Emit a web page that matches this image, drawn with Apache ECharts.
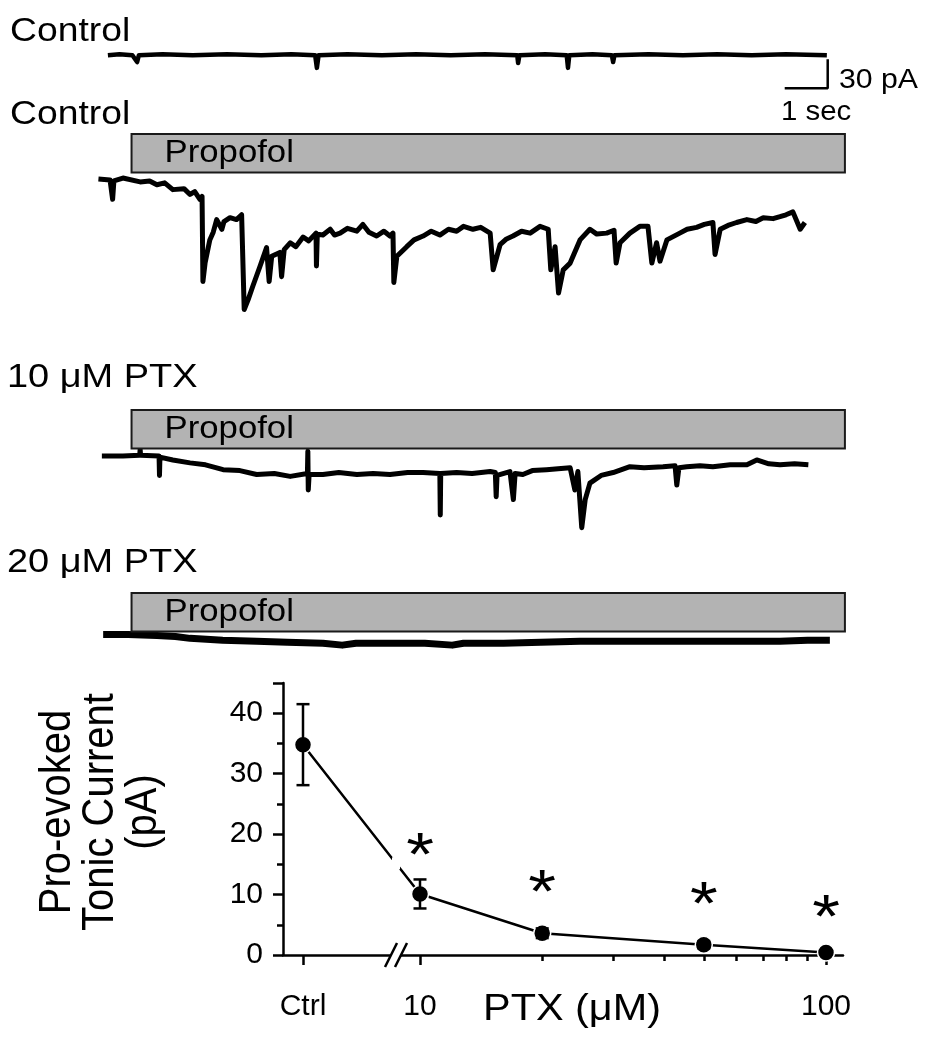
<!DOCTYPE html>
<html><head><meta charset="utf-8">
<script src="https://cdn.jsdelivr.net/npm/echarts@6/dist/echarts.min.js"></script>
<style>html,body{margin:0;padding:0;background:#fff}#c{width:930px;height:1050px}</style>
</head><body><div id="c"></div>
<script>
// ---------- DATA ----------
// Traces: [time (s), current (pA, relative to start baseline)]
const traceControl = [[0.23,-1],[0.5,0],[0.8,-1],[0.91,-8],[0.95,-1],[1.5,0],[2.2,-1],[3,0],[3.8,-1],[4.5,0],[5.05,-1],[5.09,-14],[5.13,-1],[5.8,0],[6.6,-1],[7.4,0],[8.2,-1],[9,0],[9.75,-1],[9.77,-9],[9.8,-1],[10.4,0],[10.9,-1],[10.93,-14],[10.96,-1],[11.5,0],[11.95,-1],[11.98,-8],[12.01,-1],[12.8,0],[13.6,-1],[14.4,0],[15.2,-1],[16,0],[16.95,-1]];
const traceProp = [[0.01,0],[0.28,-1],[0.34,-21],[0.37,-2],[0.58,1],[0.98,-3],[1.2,-2],[1.37,-6],[1.55,-4],[1.74,-11],[2.0,-10],[2.14,-16],[2.25,-13],[2.37,-21],[2.42,-18],[2.44,-106],[2.49,-87],[2.60,-63],[2.68,-55],[2.76,-42],[2.88,-52],[2.93,-44],[3.07,-40],[3.22,-42],[3.34,-37],[3.37,-39],[3.40,-135],[3.49,-125],[3.60,-111],[3.77,-90],[3.92,-71],[3.98,-106],[4.04,-80],[4.23,-76],[4.27,-101],[4.33,-73],[4.47,-66],[4.6,-70],[4.77,-60],[4.9,-64],[5.07,-56],[5.08,-90],[5.10,-57],[5.23,-58],[5.4,-52],[5.5,-58],[5.63,-56],[5.8,-51],[6.02,-54],[6.16,-47],[6.3,-55],[6.48,-59],[6.65,-54],[6.79,-59],[6.86,-56],[6.88,-107],[6.95,-80],[7.18,-70],[7.35,-63],[7.56,-59],[7.75,-54],[7.95,-58],[8.15,-52],[8.34,-54],[8.5,-49],[8.72,-52],[8.9,-50],[9.12,-56],[9.19,-94],[9.35,-68],[9.5,-62],[9.65,-59],[9.85,-54],[10.05,-56],[10.28,-49],[10.47,-52],[10.53,-94],[10.63,-70],[10.71,-118],[10.82,-94],[10.98,-87],[11.21,-63],[11.44,-52],[11.6,-57],[11.83,-56],[12.0,-53],[12.05,-87],[12.14,-66],[12.37,-56],[12.6,-49],[12.79,-49],[12.88,-87],[12.99,-66],[13.07,-85],[13.23,-63],[13.53,-56],[13.7,-52],[13.92,-50],[14.1,-47],[14.30,-45],[14.35,-78],[14.47,-52],[14.65,-48],[14.85,-45],[15.09,-42],[15.3,-44],[15.47,-40],[15.7,-41],[15.86,-39],[16.0,-37],[16.16,-34],[16.33,-52],[16.44,-45]];
const trace10PTX = [[0.09,0],[0.58,0],[0.97,1],[0.98,7],[0.99,1],[1.42,0],[1.43,-20],[1.44,-1],[1.74,-4],[2.14,-7],[2.5,-9],[2.91,-14],[3.3,-15],[3.69,-19],[4.1,-18],[4.47,-21],[4.87,-18],[4.88,5],[4.89,-35],[4.91,-19],[5.23,-19],[5.6,-17],[6.02,-19],[6.4,-18],[6.79,-19],[7.2,-17],[7.56,-17],[7.95,-18],[7.96,-61],[7.97,-18],[8.34,-17],[8.7,-18],[9.12,-16],[9.24,-17],[9.26,-42],[9.28,-20],[9.58,-16],[9.66,-45],[9.70,-18],[9.88,-19],[10.1,-15],[10.43,-14],[10.7,-13],[10.98,-12],[11.09,-35],[11.16,-16],[11.25,-74],[11.33,-45],[11.44,-28],[11.7,-20],[11.98,-17],[12.37,-11],[12.7,-12],[13.14,-11],[13.42,-10],[13.46,-30],[13.51,-12],[13.69,-11],[14.0,-10],[14.30,-11],[14.7,-9],[15.09,-9],[15.32,-4],[15.6,-8],[15.86,-9],[16.2,-8],[16.52,-9]];
const trace20PTX = [[0.12,0],[0.7,0],[1.37,-1],[1.8,-2],[2.14,-4],[2.9,-6],[3.69,-7],[4.4,-8],[5.23,-9],[5.68,-11],[6.0,-9],[6.79,-9],[7.6,-9],[8.24,-11],[8.5,-9],[9.43,-9],[10.3,-8],[11.21,-7],[12.4,-7],[13.53,-7],[14.7,-7],[15.86,-7],[16.5,-6],[17.02,-6]];
const propofolOn = 0.78, propofolOff = 17.37;   // s
const scaleBarSec = 1, scaleBarPA = 30;

// Summary plot
const ptxLabels = ['Ctrl', '10', '20', '50', '100'];
const ptxConc = [null, 10, 20, 50, 100];           // µM (null = control)
const tonicMean = [34.8, 10.1, 3.6, 1.7, 0.4];      // pA
const tonicSem  = [6.7, 2.4, 0.8, 0.6, 0.3];        // pA
const significant = [false, true, true, true, true];
const asteriskY = [null, 18.5, 12.4, 10.4, 8.3];
const xMinorConc = [20, 30, 40, 50, 60, 70, 80, 90];

// ---------- LAYOUT ----------
const PX_PER_S = 43, PX_PER_PA = 29 / 30;
const TR_LEFT = 98, TR_W = 760, TR_H = 290;
const tMax = TR_W / PX_PER_S, paRange = TR_H / PX_PER_PA;
const traceGrids = [ {top: 35, max: 20}, {top: 121, max: 60}, {top: 430, max: 27}, {top: 620, max: 15} ];
const traces = [traceControl, traceProp, trace10PTX, trace20PTX];
const traceWidths = [4.5, 5, 5, 7];
const FONT = '"Liberation Sans", Arial, sans-serif';

const CTRL_U = 1 - (420 - 303) / 406;
const X_MIN = 1 - (420 - 283) / 406, X_MAX = 2 + (843 - 826) / 406;
const BREAK_U = 1 - 24 / 406;
const uOf = (i) => ptxConc[i] == null ? CTRL_U : Math.log10(ptxConc[i]);

const grids = [], xAxes = [], yAxes = [], series = [];
traceGrids.forEach((g, i) => {
  grids.push({left: TR_LEFT, top: g.top, width: TR_W, height: TR_H, containLabel: false});
  xAxes.push({type: 'value', gridIndex: i, min: 0, max: tMax, show: false});
  yAxes.push({type: 'value', gridIndex: i, min: g.max - paRange, max: g.max, show: false});
  series.push({type: 'line', xAxisIndex: i, yAxisIndex: i, data: traces[i], showSymbol: false,
    lineStyle: {color: '#000', width: traceWidths[i], join: 'round'}, silent: true});
});
const sbT = 16.97, sbV = -35;
series.push({type: 'line', xAxisIndex: 0, yAxisIndex: 0, showSymbol: false,
  data: [[sbT - scaleBarSec, sbV], [sbT, sbV], [sbT, sbV + scaleBarPA]],
  lineStyle: {color: '#000', width: 2.5}});

grids.push({left: 283, right: 930 - 843, top: 683, bottom: 1050 - 955});
const lab = {fontFamily: FONT, fontSize: 30, color: '#000'};
xAxes.push({type: 'value', gridIndex: 4, min: X_MIN, max: X_MAX,
  axisLine: {show: true, onZero: false, lineStyle: {color: '#000', width: 2.5}},
  axisTick: {show: true, inside: false, length: 10, lineStyle: {width: 2.5, color: '#000'},
    customValues: [CTRL_U, 1, 2]},
  axisLabel: Object.assign({show: true, margin: 37, customValues: [CTRL_U, 1, 2],
    formatter: (v) => Math.abs(v - CTRL_U) < 1e-6 ? ptxLabels[0] : String(Math.round(Math.pow(10, v)))}, lab),
  splitLine: {show: false}});
xAxes.push({type: 'value', gridIndex: 4, min: X_MIN, max: X_MAX, position: 'bottom',
  axisLine: {show: false},
  axisTick: {show: true, inside: false, length: 6, lineStyle: {width: 2.5, color: '#000'},
    customValues: xMinorConc.map(Math.log10)},
  axisLabel: {show: false}, splitLine: {show: false}});
yAxes.push({type: 'value', gridIndex: 4, min: 0, max: 45, interval: 10,
  axisLine: {show: true, lineStyle: {color: '#000', width: 2.5}},
  axisTick: {show: true, inside: false, length: 10, lineStyle: {width: 2.5, color: '#000'}},
  minorTick: {show: true, splitNumber: 2, length: 6, lineStyle: {width: 2.5, color: '#000'}},
  axisLabel: Object.assign({margin: 20, showMaxLabel: false}, lab),
  splitLine: {show: false}});

const pts = tonicMean.map((m, i) => [uOf(i), m]);
series.push({type: 'line', xAxisIndex: 4, yAxisIndex: 4, data: pts, symbol: 'circle', symbolSize: 17,
  lineStyle: {color: '#000', width: 2.5}, itemStyle: {color: '#000', borderColor: '#fff', borderWidth: 1.5}, z: 3});
series.push({type: 'custom', xAxisIndex: 4, yAxisIndex: 4, z: 4,
  data: tonicMean.map((m, i) => [uOf(i), m - tonicSem[i], m + tonicSem[i]]),
  renderItem: (params, api) => {
    const lo = api.coord([api.value(0), api.value(1)]);
    const hi = api.coord([api.value(0), api.value(2)]);
    const w = 6.5, st = {stroke: '#000', lineWidth: 2.5};
    return {type: 'group', children: [
      {type: 'line', shape: {x1: lo[0], y1: lo[1], x2: hi[0], y2: hi[1]}, style: st},
      {type: 'line', shape: {x1: lo[0] - w, y1: lo[1], x2: lo[0] + w, y2: lo[1]}, style: st},
      {type: 'line', shape: {x1: hi[0] - w, y1: hi[1], x2: hi[0] + w, y2: hi[1]}, style: st}
    ]};
  }});
series.push({type: 'custom', xAxisIndex: 4, yAxisIndex: 4, z: 5,
  data: asteriskY.map((y, i) => significant[i] ? [uOf(i), y] : null).filter(Boolean),
  renderItem: (params, api) => {
    const c = api.coord([api.value(0), api.value(1)]);
    return {type: 'text', x: c[0], y: c[1] + 15, scaleX: 1.15,
      style: {text: '*', fontFamily: FONT, fontSize: 62, fill: '#000', align: 'center', verticalAlign: 'middle'}};
  }});

const chart = echarts.init(document.getElementById('c'), null, {renderer: 'canvas'});
chart.setOption({animation: false, backgroundColor: '#fff', grid: grids, xAxis: xAxes, yAxis: yAxes, series: series});

// ---------- annotations ----------
const txt = (x, y, s, size, sx, align) => ({type: 'text', x: x, y: y, z: 10, scaleX: sx || 1,
  style: {text: s, fontFamily: FONT, fontSize: size, fill: '#000', align: align || 'left', verticalAlign: 'middle'}});
const g = [];
g.push(txt(10, 32, 'Control', 33, 1.13));
g.push(txt(10, 115, 'Control', 33, 1.13));
g.push(txt(7, 378, '10 \u03bcM PTX', 33, 1.15));
g.push(txt(7, 563, '20 \u03bcM PTX', 33, 1.15));
g.push(txt(839, 80, '30 pA', 28, 1.08));
g.push(txt(781, 112, '1 sec', 28, 1.05));
const barTops = [134, 410, 593], BAR_H = 38.5;
barTops.forEach((top, i) => {
  const x0 = chart.convertToPixel({xAxisIndex: i + 1}, propofolOn);
  const x1 = chart.convertToPixel({xAxisIndex: i + 1}, propofolOff);
  g.push({type: 'rect', z: 5, shape: {x: x0, y: top, width: x1 - x0, height: BAR_H},
    style: {fill: '#b3b3b3', stroke: '#1a1a1a', lineWidth: 2}});
  const t = txt(x0 + 33, top + BAR_H / 2 + 0.5, 'Propofol', 31, 1.12);
  t.z = 6; g.push(t);
});
g.push({type: 'text', x: 101, y: 812, rotation: Math.PI / 2, scaleY: 1.1, z: 10,
  style: {text: 'Pro-evoked\nTonic Current\n(pA)', fontFamily: FONT, fontSize: 40, lineHeight: 39,
    fill: '#000', align: 'center', verticalAlign: 'middle'}});
g.push(txt(572, 1010, 'PTX (\u03bcM)', 36, 1.15, 'center'));
const bx = chart.convertToPixel({xAxisIndex: 4}, BREAK_U);
const by = chart.convertToPixel({yAxisIndex: 4}, 0);
g.push({type: 'rect', z: 8, shape: {x: bx - 5, y: by - 3, width: 10, height: 6}, style: {fill: '#fff'}});
[-5, 5].forEach(d => g.push({type: 'line', z: 9, shape: {x1: bx + d - 6, y1: by + 12, x2: bx + d + 6, y2: by - 12},
  style: {stroke: '#000', lineWidth: 2.5}}));
const p0 = chart.convertToPixel({xAxisIndex: 4, yAxisIndex: 4}, pts[0]);
const p1 = chart.convertToPixel({xAxisIndex: 4, yAxisIndex: 4}, pts[1]);
const ly = p0[1] + (bx - p0[0]) / (p1[0] - p0[0]) * (p1[1] - p0[1]);
g.push({type: 'rect', z: 8, shape: {x: bx - 4, y: ly - 6, width: 8, height: 12}, style: {fill: '#fff'}});
chart.setOption({graphic: g});
</script></body></html>
